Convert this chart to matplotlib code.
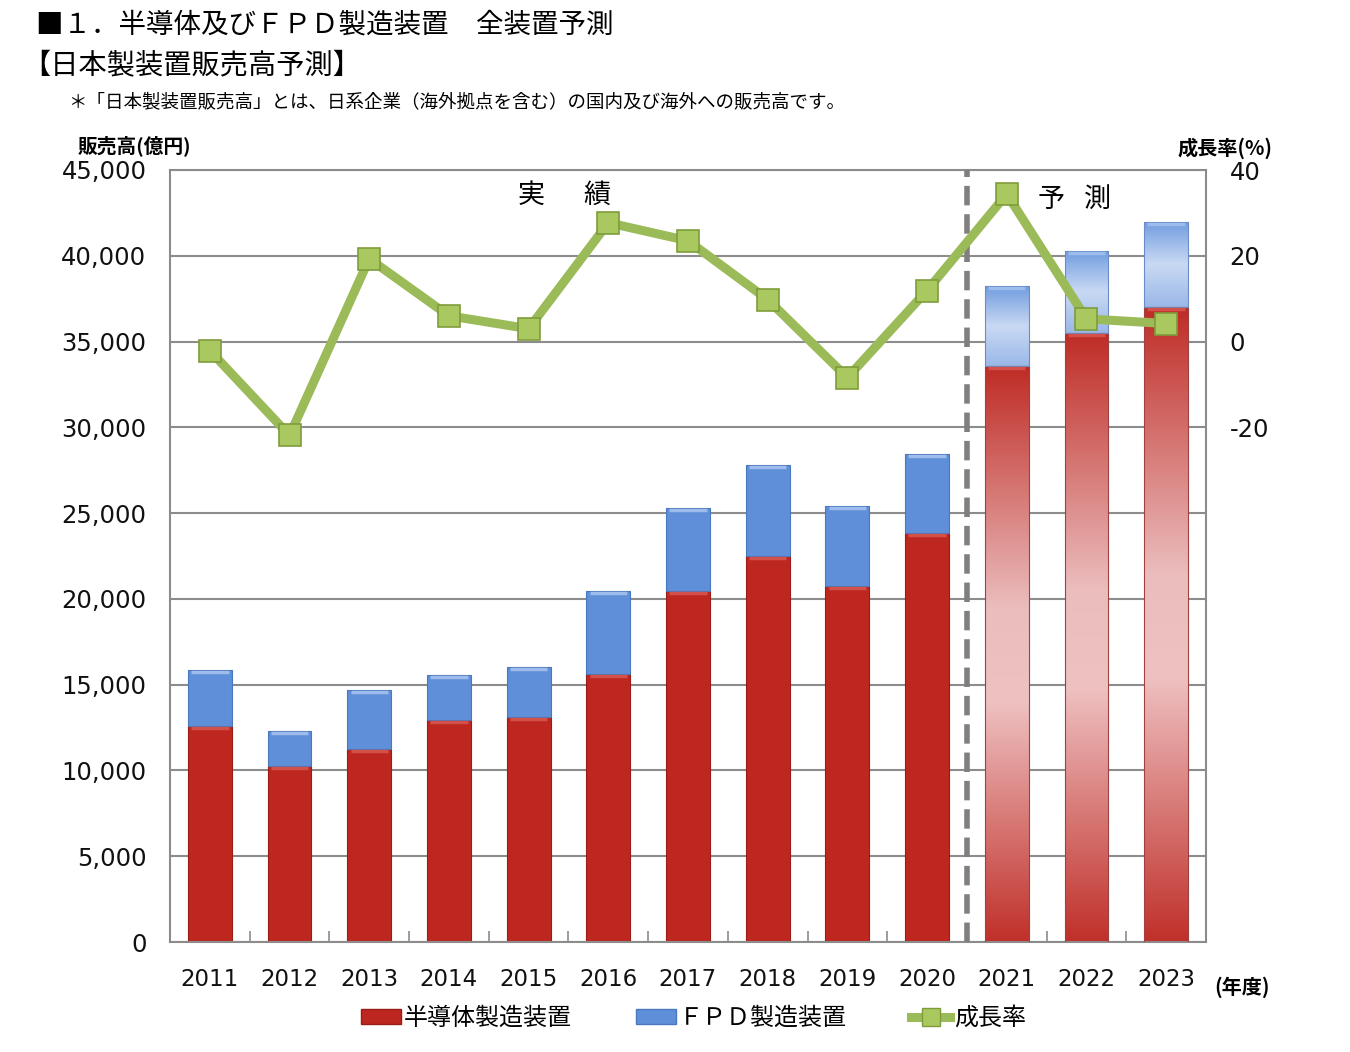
import numpy as np
import matplotlib
matplotlib.use("Agg")
import matplotlib.pyplot as plt
from matplotlib.colors import LinearSegmentedColormap
from matplotlib.patches import Patch
from matplotlib.lines import Line2D

plt.rcParams['font.family'] = ['DejaVu Sans', 'Noto Sans CJK JP']
plt.rcParams['axes.unicode_minus'] = False
JP = ['Noto Sans CJK JP', 'DejaVu Sans']

years = ['2011', '2012', '2013', '2014', '2015', '2016', '2017',
         '2018', '2019', '2020', '2021', '2022', '2023']
semi = [12590, 10260, 11250, 12940, 13110, 15620, 20450,
        22490, 20750, 23830, 33570, 35490, 37000]
total = [15850, 12300, 14690, 15560, 16030, 20450, 25290,
         27800, 25410, 28440, 38230, 40270, 41960]
growth = [-2.1, -21.9, 19.3, 6.0, 3.0, 27.7, 23.5,
          9.8, -8.4, 11.9, 34.4, 5.3, 4.2]
n_actual = 10

fpd = [t - s for t, s in zip(total, semi)]

RED = '#bd2720'
BLUE = '#5f8fd8'
GREEN = '#9bbb59'
GRID = '#8c8c8c'

fig = plt.figure(figsize=(13.5, 10.52), dpi=100)
ax = fig.add_axes([170/1350, 1-942/1052, (1206-170)/1350, (942-170)/1052])

x = np.arange(len(years))
w = 0.55

ax.set_xlim(-0.5, len(years)-0.5)
ax.set_ylim(0, 45000)
ax.set_yticks(np.arange(0, 45001, 5000))
ax.set_yticklabels([f'{v:,}' for v in range(0, 45001, 5000)])
ax.yaxis.grid(True, color=GRID, lw=1.5)
ax.set_axisbelow(True)

red_cmap = LinearSegmentedColormap.from_list('r', [(0, '#bf2c26'), (0.42, '#ebbdbd'),
                                                   (0.58, '#efc2c2'), (1.0, '#c0302a')])
blue_cmap = LinearSegmentedColormap.from_list('b', [(0, '#6f9ce0'), (0.5, '#c9d9f3'),
                                                    (1.0, '#9ab8e8')])

for i in range(len(years)):
    if i < n_actual:
        ax.bar(x[i], semi[i], w, color=RED, edgecolor='#9a1c17', lw=0.8, zorder=2)
        ax.bar(x[i], fpd[i], w, bottom=semi[i], color=BLUE, edgecolor='#4a78bd', lw=0.8, zorder=2)
    else:
        for bottom, h, cmap, ec in [(0, semi[i], red_cmap, '#a04040'),
                                    (semi[i], fpd[i], blue_cmap, '#6a8cc8')]:
            b = ax.bar(x[i], h, w, bottom=bottom, color='none', edgecolor=ec, lw=0.8, zorder=3)[0]
            grad = np.linspace(0, 1, 256).reshape(-1, 1)
            im = ax.imshow(grad, cmap=cmap, aspect='auto', origin='upper',
                           extent=(x[i]-w/2, x[i]+w/2, bottom, bottom+h), zorder=2)
            im.set_clip_path(b)
    # bevel highlights at top of each segment
    ax.plot([x[i]-w/2+0.04, x[i]+w/2-0.04], [total[i]-130, total[i]-130],
            color='#9dbcec', lw=2.5, zorder=4, solid_capstyle='butt')
    ax.plot([x[i]-w/2+0.04, x[i]+w/2-0.04], [semi[i]-130, semi[i]-130],
            color='#d2524b', lw=2.5, zorder=4, solid_capstyle='butt')

ax.set_xlim(-0.5, len(years)-0.5)
ax.set_ylim(0, 45000)
ax.set_xticks(x)
ax.set_xticklabels(years)
ax.set_xticks(np.arange(0.5, len(years)-0.5, 1), minor=True)
ax.tick_params(axis='x', which='major', length=0, labelsize=16.5, pad=19, labelcolor='#111111')
ax.tick_params(axis='x', which='minor', length=8, direction='in', color=GRID, width=1.2)
ax.tick_params(axis='y', length=0, labelsize=17.5, pad=17, labelcolor='#111111')
for s in ax.spines.values():
    s.set_color(GRID)
    s.set_linewidth(1.5)

ax.axvline(n_actual - 0.5, color='#7f7f7f', lw=4, ls=(0, (3.5, 1.6)), zorder=5)

ax2 = ax.twinx()
ax2.set_ylim(-140, 40)
ax2.set_yticks([-20, 0, 20, 40])
ax2.tick_params(axis='y', length=0, labelsize=17.5, pad=17, labelcolor='#111111')
for s in ax2.spines.values():
    s.set_visible(False)
ax2.plot(x, growth, color=GREEN, lw=6.5, marker='s', markersize=16,
         markerfacecolor='#a9c85f', markeredgecolor='#7f9c3c', markeredgewidth=1.2, zorder=6)

for ch, xi, yv in [('実', 4.03, 43540), ('績', 4.86, 43540),
                   ('予', 10.56, 43300), ('測', 11.14, 43300)]:
    ax.text(xi, yv, ch, fontsize=19.5, family=JP, ha='center', va='center', zorder=7)

fig.text(36/1350, 1-25/1052, '■１．半導体及びＦＰＤ製造装置　全装置予測', fontsize=19.8,
         family=JP, ha='left', va='center')
fig.text(22/1350, 1-65/1052, '【日本製装置販売高予測】', fontsize=20.3,
         family=JP, ha='left', va='center')
fig.text(68/1350, 1-102/1052, '＊「日本製装置販売高」とは、日系企業（海外拠点を含む）の国内及び海外への販売高です。',
         fontsize=13.3, family=JP, ha='left', va='center')
fig.text(78/1350, 1-146/1052, '販売高(億円)', fontsize=14.2, family=JP, weight='bold',
         ha='left', va='center')
fig.text(1177/1350, 1-148/1052, '成長率(%)', fontsize=14.5, family=JP, weight='bold',
         ha='left', va='center')
fig.text(1214/1350, 1-987/1052, '(年度)', fontsize=14.5, family=JP, weight='bold',
         ha='left', va='center')

handles = [Patch(facecolor=RED, edgecolor='#9a1c17'),
           Patch(facecolor=BLUE, edgecolor='#4a78bd'),
           Line2D([0], [0], color=GREEN, lw=6.5, marker='s', markersize=13,
                  markerfacecolor='#a9c85f', markeredgecolor='#7f9c3c')]
labels = ['半導体製造装置', 'ＦＰＤ製造装置', '成長率']
leg = fig.legend(handles, labels, loc='center', bbox_to_anchor=(0.5137, 1-1018/1052),
                 ncol=3, frameon=False, prop={'family': JP, 'size': 17.3},
                 handlelength=1.65, handleheight=0.6, handletextpad=0.15, columnspacing=2.65)

fig.savefig('out.png', dpi=100)
